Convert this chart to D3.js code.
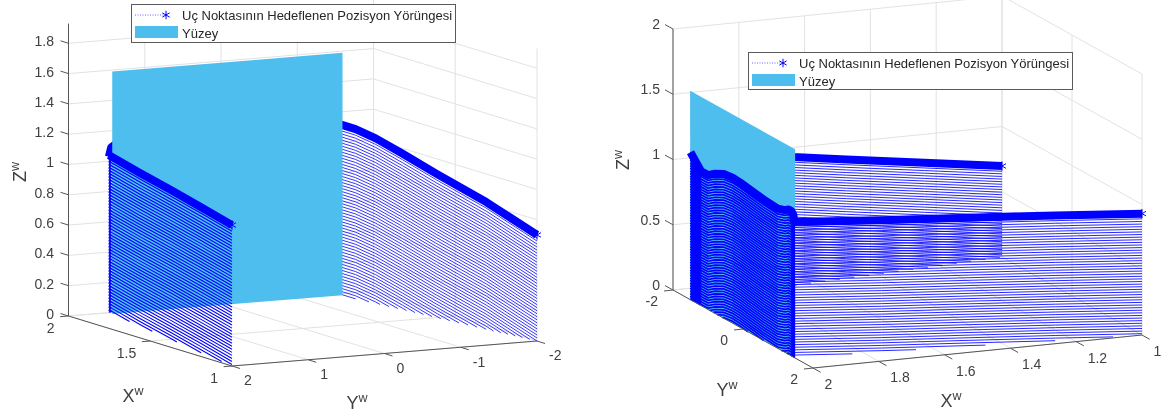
<!DOCTYPE html>
<html><head><meta charset="utf-8">
<script src="https://cdn.jsdelivr.net/npm/d3@7/dist/d3.min.js"></script>
<style>html,body{margin:0;padding:0;background:#fff}svg{display:block;font-family:"Liberation Sans",Arial,sans-serif;filter:blur(0.35px)}</style>
</head><body><svg id="c" width="1174" height="416"></svg>
<script>
const legendLabels = ["Uç Noktasının Hedeflenen Pozisyon Yörüngesi", "Yüzey"];
// trajectory segments: A along X=2, B and D towards X=1
const segAY = [-1.5,-1.35,-1.2,-1.0,-0.8,-0.55,-0.3,-0.07,0.25,0.59,0.99,1.2,1.3,1.38,1.44,1.47];
const segAZ = [1.13,1.08,1.03,1.03,1.07,1.105,1.115,1.11,1.095,1.08,1.07,1.09,1.11,1.11,1.09,1.03];
const segAX = segAY.map(() => 2);
const segBX = [2,1.75,1.5,1.25,1];
const segBY = [1.47,1.6,1.73,1.87,2];
const segBZ = [1.04,1.01,0.985,0.96,0.93];
const segDX = [2,1.9,1.8,1.67,1.5,1.25,1];
const segDY = [-1.5,-1.55,-1.6,-1.67,-1.75,-1.87,-2];
const segDZLeft  = [1.13,1.12,1.09,1.03,0.95,0.84,0.70];
const segDZRight = [1.13,1.09,1.05,0.985,0.911,0.805,0.697];
const stepZ = 0.02;                                  // the path repeats every 0.02 down to the floor
const levels = d3.range(0, 60).map(k => k * stepZ);
const leftZTicks = [0,0.2,0.4,0.6,0.8,1,1.2,1.4,1.6,1.8];
const leftZLabels = ["0","0.2","0.4","0.6","0.8","1","1.2","1.4","1.6","1.8"];
const leftXTicks = [2,1.5,1], leftXLabels = ["2","1.5","1"];
const leftYTicks = [2,1,0,-1,-2], leftYLabels = ["2","1","0","-1","-2"];
const rightZTicks = [0,0.5,1,1.5,2], rightZLabels = ["0","0.5","1","1.5","2"];
const rightXTicks = [2,1.8,1.6,1.4,1.2,1], rightXLabels = ["2","1.8","1.6","1.4","1.2","1"];
const rightYTicks = [-2,0,2], rightYLabels = ["-2","0","2"];
const leftSurfaceX = 1.975, leftSurfaceY = [1.48,-1.54];
const rightSurfaceX = 2, rightSurfaceY = [-1.51,1.49];
const surfaceZ = [0,1.6];

const BLUE="#0000ff", CYAN="#4dbeee", GRID="#e2e2e2", AX="#555", TXT="#404040";
const svg = d3.select("#c");
const line = d3.line();

// keep only the parts of a shifted path that stay above the floor, as the axes clip them
function aboveFloor(Xs,Ys,Zs){
  const runs=[]; let cur=[];
  Zs.forEach((z,i)=>{
    if(i>0 && (Zs[i-1]>=0)!==(z>=0)){
      const u=Zs[i-1]/(Zs[i-1]-z);
      const q=[Xs[i-1]+u*(Xs[i]-Xs[i-1]),Ys[i-1]+u*(Ys[i]-Ys[i-1]),0];
      cur.push(q);
      if(z<0){runs.push(cur);cur=[];}
    }
    if(z>=0) cur.push([Xs[i],Ys[i],z]);
  });
  if(cur.length) runs.push(cur);
  return runs;
}

function panel(o){
  const g = svg.append("g");
  const sx = { X:d3.scaleLinear().domain([1,2]).range(o.xVec[0]), Y:d3.scaleLinear().domain([-2,2]).range(o.yVec[0]) };
  const sy = { X:d3.scaleLinear().domain([1,2]).range(o.xVec[1]), Y:d3.scaleLinear().domain([-2,2]).range(o.yVec[1]) };
  const sz = d3.scaleLinear().domain([0,1]).range([0,-o.zPx]);
  const P = (X,Y,Z) => [o.origin[0]+sx.X(X)+sx.Y(Y), o.origin[1]+sy.X(X)+sy.Y(Y)+sz(Z)];
  const gl = (a,b,c,w=1) => g.append("path").attr("d",line([a,b])).attr("stroke",c).attr("stroke-width",w).attr("fill","none");

  const xb = o.backX, yb = o.backY, xf = xb===2?1:2, yf = yb===2?-2:2;
  o.zTicks.forEach(z=>{ gl(P(o.walls.a[0],o.walls.a[1],z),P(xb,yb,z),GRID); gl(P(xb,yb,z),P(o.walls.b[0],o.walls.b[1],z),GRID); });
  o.xTicks.forEach(x=>{ gl(P(x,yb,0),P(x,yb,o.zTop),GRID); gl(P(x,yb,0),P(x,yf,0),GRID); });
  o.yTicks.forEach(y=>{ gl(P(xb,y,0),P(xb,y,o.zTop),GRID); gl(P(xb,y,0),P(xf,y,0),GRID); });

  const stack = (Xs,Ys,Zs,width,endStar) => {
    const s = g.append("g").attr("fill","none").attr("stroke",BLUE);
    s.selectAll("path").data(levels).join("path")
      .attr("stroke-width",width)
      .attr("d",dz=>aboveFloor(Xs,Ys,Zs.map(z=>z-dz)).map(r=>line(r.map(p=>P(p[0],p[1],p[2])))).join(""));
    s.append("path").attr("stroke-width",o.top).attr("stroke-linejoin","round")
      .attr("d",line(Zs.map((z,i)=>P(Xs[i],Ys[i],z))));
    if(endStar){
      const n=Zs.length-1, e=P(Xs[n],Ys[n],Zs[n]);
      g.append("path").attr("d",d3.symbol().type(d3.symbolAsterisk).size(60)).attr("transform",`translate(${e})`)
       .attr("stroke",BLUE).attr("stroke-width",1).attr("fill","none");
    }
  };
  const surface = () => {
    const [y0,y1]=o.surfY, x=o.surfX, [z0,z1]=surfaceZ;
    g.append("path").attr("d",line([P(x,y0,z0),P(x,y1,z0),P(x,y1,z1),P(x,y0,z1)])+"Z").attr("fill",CYAN);
  };
  const A=()=>stack(segAX,segAY,segAZ,o.wA,false), B=()=>stack(segBX,segBY,segBZ,o.wB,true), D=()=>stack(segDX,segDY,o.segDZ,o.wD,true);
  o.order === "left" ? (A(),D(),surface(),B()) : (D(),surface(),A(),B());

  gl(P(o.zAxis[0],o.zAxis[1],0),P(o.zAxis[0],o.zAxis[1],o.zTop),AX);
  gl(P(1,o.xAxisY,0),P(2,o.xAxisY,0),AX);
  gl(P(o.yAxisX,-2,0),P(o.yAxisX,2,0),AX);
  const t = (data,labels,pt,tick,off,anchor) => data.forEach((v,i)=>{
    const p=pt(v); gl(p,[p[0]+tick[0],p[1]+tick[1]],AX);
    g.append("text").attr("x",p[0]+off[0]).attr("y",p[1]+off[1]).attr("dy","0.35em")
      .attr("text-anchor",anchor).attr("font-size",14).attr("fill",TXT).text(labels[i]);
  });
  t(o.zTicks,o.zLabels,z=>P(o.zAxis[0],o.zAxis[1],z),o.zTick,o.zOff,"end");
  t(o.xTicks,o.xLabels,x=>P(x,o.xAxisY,0),o.xTick,o.xOff,o.xAnchor);
  t(o.yTicks,o.yLabels,y=>P(o.yAxisX,y,0),o.yTick,o.yOff,o.yAnchor);

  const axisLabel=(ch,pos,rot)=>{
    const e=g.append("text").attr("transform",`translate(${pos})${rot?" rotate(-90)":""}`)
      .attr("text-anchor","middle").attr("dy","0.35em").attr("font-size",18).attr("fill",TXT);
    e.append("tspan").text(ch);
    e.append("tspan").attr("font-size",12.5).attr("dy","-0.55em").text("w");
  };
  axisLabel("Z",o.zLab,true); axisLabel("X",o.xLab); axisLabel("Y",o.yLab);

  const [lx,ly,lw,lh]=o.legend;
  const L=g.append("g").attr("transform",`translate(${lx},${ly})`);
  L.append("rect").attr("x",.5).attr("y",.5).attr("width",lw).attr("height",lh).attr("fill","#fff").attr("stroke","#5a5a5a").attr("stroke-width",1);
  L.append("path").attr("d",line([[4,11],[35,11]])).attr("stroke",BLUE).attr("stroke-width",1).attr("stroke-dasharray","1 1.5").attr("opacity",.6);
  L.append("path").attr("d",d3.symbol().type(d3.symbolAsterisk).size(50)).attr("transform","translate(35,11)").attr("stroke",BLUE).attr("fill","none");
  L.append("rect").attr("x",4).attr("y",22).attr("width",43).attr("height",12).attr("fill",CYAN);
  legendLabels.forEach((s,i)=>L.append("text").attr("x",51).attr("y",11+i*18).attr("dy","0.35em").attr("font-size",13).attr("fill","#262626").text(s));
}

panel({order:"left",origin:[232,366],segDZ:segDZLeft,
  xVec:[[0,-163.5],[0,-50]], yVec:[[305,0],[-25,0]], zPx:151.5, zTop:1.93,
  backX:2, backY:-2, walls:{a:[2,2],b:[1,-2]}, zAxis:[2,2], xAxisY:2, yAxisX:1,
  zTicks:leftZTicks,zLabels:leftZLabels,xTicks:leftXTicks,xLabels:leftXLabels,yTicks:leftYTicks,yLabels:leftYLabels,
  zTick:[-8,-2.5],zOff:[-14.5,-2],xTick:[-8.4,.7],xOff:[-14,12],xAnchor:"end",yTick:[8,2.5],yOff:[12,14.5],yAnchor:"start",
  surfX:leftSurfaceX,surfY:leftSurfaceY,wA:1,wB:1.1,wD:.8,top:8,
  zLab:[20,172],xLab:[133,396],yLab:[357,403],legend:[131,4,324,38]});

panel({order:"right",origin:[813,368],segDZ:segDZRight,
  xVec:[[329,0],[-33,0]], yVec:[[-140,0],[-78,0]], zPx:130.5, zTop:2,
  backX:1, backY:-2, walls:{a:[2,-2],b:[1,2]}, zAxis:[2,-2], xAxisY:2, yAxisX:2,
  zTicks:rightZTicks,zLabels:rightZLabels,xTicks:rightXTicks,xLabels:rightXLabels,yTicks:rightYTicks,yLabels:rightYLabels,
  zTick:[-8,-4.4],zOff:[-13,-5],xTick:[7.7,4.3],xOff:[11.5,16],xAnchor:"start",yTick:[-9,1],yOff:[-15,11.5],yAnchor:"end",
  surfX:rightSurfaceX,surfY:rightSurfaceY,wA:1.7,wB:.85,wD:.85,top:8,
  zLab:[623,160],xLab:[951,401],yLab:[727,390],legend:[748,52,324,37]});
</script></body></html>
